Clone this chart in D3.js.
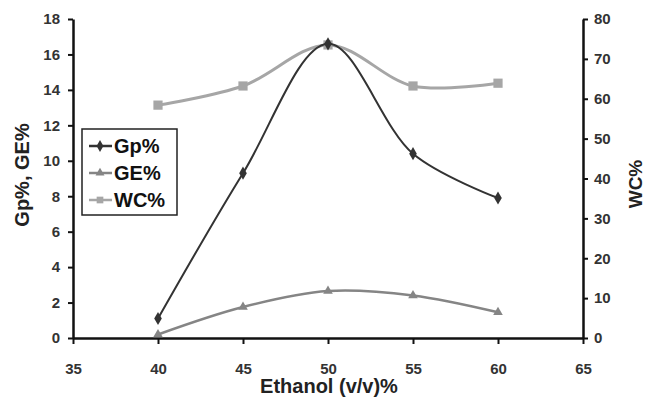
<!DOCTYPE html>
<html><head><meta charset="utf-8">
<script src="https://cdn.jsdelivr.net/npm/d3@7"></script>
<style>body{margin:0;background:#fff}</style>
</head><body>
<svg id="c" width="645" height="398"></svg>
<script>
const ethanol = [40, 45, 50, 55, 60];
const gp = [1.1, 9.3, 16.6, 10.4, 7.9];
const ge = [0.2, 1.75, 2.65, 2.4, 1.45];
const wc = [58.4, 63.2, 73.5, 63.2, 63.9];
const xTicks = [35, 40, 45, 50, 55, 60, 65];
const yLeftTicks = [0, 2, 4, 6, 8, 10, 12, 14, 16, 18];
const yRightTicks = [0, 10, 20, 30, 40, 50, 60, 70, 80];

const svg = d3.select("#c");
const L = 73, R = 583, T = 19, B = 338;
const x = d3.scaleLinear().domain([35, 65]).range([L, R]);
const yL = d3.scaleLinear().domain([0, 18]).range([B, T]);
const yR = d3.scaleLinear().domain([0, 80]).range([B, T]);
const font = "Arial, 'Liberation Sans', sans-serif";

function styleAxis(g){
  g.selectAll("path.domain").attr("stroke","#111").attr("stroke-width",2.5);
  g.selectAll(".tick line").attr("stroke","#111").attr("stroke-width",2);
  g.selectAll(".tick text").attr("font-family",font).attr("font-size",15).attr("font-weight","bold").attr("fill","#333");
}
const gx = svg.append("g").attr("transform",`translate(0,${B})`)
  .call(d3.axisBottom(x).tickValues(xTicks).tickSize(6).tickSizeOuter(0).tickPadding(19));
styleAxis(gx);
const gl = svg.append("g").attr("transform",`translate(${L},0)`)
  .call(d3.axisLeft(yL).tickValues(yLeftTicks).tickSize(5).tickSizeOuter(0).tickPadding(8));
styleAxis(gl);
const gr = svg.append("g").attr("transform",`translate(${R},0)`)
  .call(d3.axisRight(yR).tickValues(yRightTicks).tickSize(5).tickSizeOuter(0).tickPadding(6));
styleAxis(gr);

const curve = d3.curveCatmullRom.alpha(0.5);
function series(vals, yScale, color, width, shape, size){
  const pts = ethanol.map((e,i)=>[x(e), yScale(vals[i])]);
  svg.append("path").attr("d", d3.line().curve(curve)(pts))
    .attr("fill","none").attr("stroke",color).attr("stroke-width",width);
  svg.append("g").selectAll("path").data(pts).join("path")
    .attr("transform",d=>`translate(${d[0]},${d[1]})`)
    .attr("d", d3.symbol().type(shape).size(size)())
    .attr("fill",color);
}
series(wc, yR, "#a6a6a6", 3, d3.symbolSquare, 85);
series(ge, yL, "#858585", 2.5, d3.symbolTriangle, 40);
series(gp, yL, "#333333", 2, d3.symbolDiamond, 50);

// legend
const lg = svg.append("g");
lg.append("rect").attr("x",82).attr("y",129).attr("width",95).attr("height",86)
  .attr("fill","#fff").attr("stroke","#222").attr("stroke-width",1.5);
const leg = [["Gp%","#333333",d3.symbolDiamond,40],["GE%","#858585",d3.symbolTriangle,35],["WC%","#a6a6a6",d3.symbolSquare,45]];
leg.forEach((d,i)=>{
  const cy = 146 + i*27;
  lg.append("line").attr("x1",89).attr("x2",112).attr("y1",cy).attr("y2",cy).attr("stroke",d[1]).attr("stroke-width",2.5);
  lg.append("path").attr("transform",`translate(100,${cy})`).attr("d",d3.symbol().type(d[2]).size(d[3])()).attr("fill",d[1]);
  lg.append("text").attr("x",114).attr("y",cy+7).text(d[0])
    .attr("font-family",font).attr("font-size",20).attr("font-weight","bold").attr("fill","#111");
});

// axis titles
svg.append("text").attr("x",329).attr("y",393).attr("text-anchor","middle").text("Ethanol (v/v)%")
  .attr("font-family",font).attr("font-size",20).attr("font-weight","bold").attr("fill","#222");
svg.append("text").attr("transform","translate(29,175) rotate(-90)").attr("text-anchor","middle").text("Gp%, GE%")
  .attr("font-family",font).attr("font-size",20).attr("font-weight","bold").attr("fill","#222");
svg.append("text").attr("transform","translate(642,184) rotate(-90)").attr("text-anchor","middle").text("WC%")
  .attr("font-family",font).attr("font-size",19).attr("font-weight","bold").attr("fill","#222");
</script>
</body></html>
